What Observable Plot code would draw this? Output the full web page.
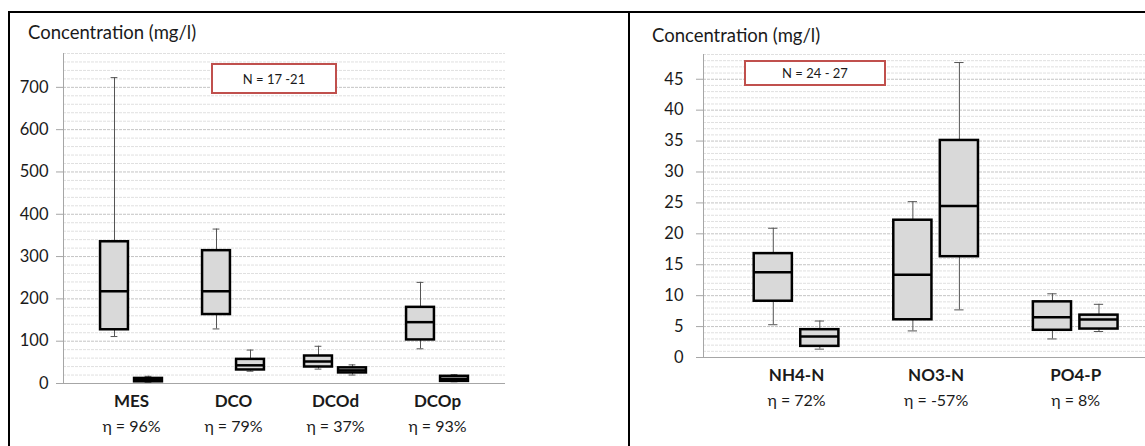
<!DOCTYPE html>
<html>
<head>
<meta charset="utf-8">
<script src="https://cdn.jsdelivr.net/npm/d3@7"></script>
<script src="https://cdn.jsdelivr.net/npm/@observablehq/plot@0.6"></script>
<style>
  html, body { margin: 0; padding: 0; background: #fff; }
  #wrap { position: relative; width: 1145px; height: 446px; overflow: hidden; font-family: Lato, "Open Sans", sans-serif; color: #1a1a1a; }
  .panel { position: absolute; top: 0; }
  .title { position: absolute; font-size: 18.5px; white-space: nowrap; line-height: 1; }
  .nbox { position: absolute; border: 2px solid #c0504d; box-sizing: border-box; background: #fff;
          display: flex; align-items: center; justify-content: center; font-size: 13px; }
  .hline { position: absolute; background: #000; }
</style>
</head>
<body>
<div id="wrap"></div>
<script>
// ---------- Left panel data (mg/l) ----------
const leftGroups = ["MES", "DCO", "DCOd", "DCOp"];
const leftEff = ["η = 96%", "η = 79%", "η = 37%", "η = 93%"];
const leftInMin = [111, 129, 34, 82];
const leftInQ1  = [127, 163, 39, 103];
const leftInMed = [218, 218, 52, 145];
const leftInQ3  = [335, 314, 65, 180];
const leftInMax = [723, 365, 88, 239];
const leftOutMin = [3, 29, 20, 4];
const leftOutQ1  = [4, 32, 25, 5];
const leftOutMed = [8, 43, 31, 11];
const leftOutQ3  = [12, 57, 37, 17];
const leftOutMax = [17, 79, 44, 21];
const leftTicks = [0, 100, 200, 300, 400, 500, 600, 700];
const leftN = "N = 17 -21";

// ---------- Right panel data (mg/l) ----------
const rightGroups = ["NH4-N", "NO3-N", "PO4-P"];
const rightEff = ["η = 72%", "η = -57%", "η = 8%"];
const rightInMin = [5.3, 4.3, 3.0];
const rightInQ1  = [9.1, 6.1, 4.4];
const rightInMed = [13.8, 13.4, 6.5];
const rightInQ3  = [16.8, 22.2, 9.0];
const rightInMax = [20.9, 25.2, 10.3];
const rightOutMin = [1.35, 7.7, 4.2];
const rightOutQ1  = [1.8, 16.3, 4.6];
const rightOutMed = [3.4, 24.5, 6.15];
const rightOutQ3  = [4.5, 35.1, 6.85];
const rightOutMax = [5.9, 47.7, 8.6];
const rightTicks = [0, 5, 10, 15, 20, 25, 30, 35, 40, 45];
const rightN = "N = 24 - 27";

function buildTable(groups, inS, outS) {
  const rows = [];
  groups.forEach((g, i) => {
    [inS, outS].forEach((S, k) => {
      rows.push({group: g, slot: 3 * i + k, min: S[0][i], q1: S[1][i], med: S[2][i], q3: S[3][i], max: S[4][i]});
    });
  });
  return rows;
}

const leftTable = buildTable(leftGroups,
  [leftInMin, leftInQ1, leftInMed, leftInQ3, leftInMax],
  [leftOutMin, leftOutQ1, leftOutMed, leftOutQ3, leftOutMax]);
const rightTable = buildTable(rightGroups,
  [rightInMin, rightInQ1, rightInMed, rightInQ3, rightInMax],
  [rightOutMin, rightOutQ1, rightOutMed, rightOutQ3, rightOutMax]);

function panel({table, groups, eff, ticks, yMax, minorStep, xDomain, width, height, margins, labelGap}) {
  const minor = d3.range(minorStep, yMax + 1e-9, minorStep).filter(v => !ticks.includes(+v.toFixed(6)));
  const halfBox = 0.41, halfCap = 0.1;
  return Plot.plot({
    width, height,
    marginLeft: margins[3], marginRight: margins[1], marginTop: margins[0], marginBottom: margins[2],
    x: {domain: xDomain, axis: null},
    y: {domain: [0, yMax], axis: null},
    style: {fontFamily: "Lato, 'Open Sans', sans-serif", fontSize: "16px", color: "#1a1a1a", background: "transparent", overflow: "visible"},
    marks: [
      Plot.ruleY(minor, {stroke: "#e0e0e0", strokeWidth: 1, strokeDasharray: "3,1"}),
      Plot.ruleY(ticks.filter(t => t > 0), {stroke: "#c4c4c4", strokeWidth: 1, strokeDasharray: "3,1"}),
      Plot.ruleY([0], {stroke: "#a6a6a6", strokeWidth: 1}),
      Plot.ruleX([xDomain[0]], {y1: 0, y2: yMax, stroke: "#a6a6a6", strokeWidth: 1}),
      Plot.axisY({ticks, tickSize: 7, text: null, stroke: "#a6a6a6", label: null}),
      Plot.text(ticks, {y: d => d, frameAnchor: "left", textAnchor: "end", dx: -labelGap,
        text: d => String(d), fontSize: 16.5, fill: "#1a1a1a"}),
      // whiskers
      Plot.ruleX(table, {x: "slot", y1: "q3", y2: "max", stroke: "#555", strokeWidth: 1}),
      Plot.ruleX(table, {x: "slot", y1: "min", y2: "q1", stroke: "#555", strokeWidth: 1}),
      Plot.ruleY(table, {y: "max", x1: d => d.slot - halfCap, x2: d => d.slot + halfCap, stroke: "#555", strokeWidth: 1}),
      Plot.ruleY(table, {y: "min", x1: d => d.slot - halfCap, x2: d => d.slot + halfCap, stroke: "#555", strokeWidth: 1}),
      // boxes
      Plot.rect(table, {x1: d => d.slot - halfBox, x2: d => d.slot + halfBox, y1: "q1", y2: "q3",
        fill: "#d9d9d9", stroke: "#000", strokeWidth: 2.5}),
      Plot.ruleY(table, {y: "med", x1: d => d.slot - halfBox, x2: d => d.slot + halfBox, stroke: "#000", strokeWidth: 2.5}),
      // category labels
      Plot.text(groups, {x: (d, i) => 3 * i + 0.5, frameAnchor: "bottom", dy: 23, text: d => d,
        fontWeight: "bold", fontSize: 17, fill: "#1a1a1a"}),
      Plot.text(eff, {x: (d, i) => 3 * i + 0.5, frameAnchor: "bottom", dy: 48, text: d => d,
        fontSize: 16, fill: "#1a1a1a"})
    ]
  });
}

const wrap = document.getElementById("wrap");

const left = panel({
  table: leftTable, groups: leftGroups, eff: leftEff, ticks: leftTicks, yMax: 780, minorStep: 20,
  xDomain: [-1.5, 11.5], width: 620, height: 446, margins: [53, 115, 63, 63], labelGap: 15
});
left.classList.add("panel"); left.style.left = "0px";
wrap.appendChild(left);

const right = panel({
  table: rightTable, groups: rightGroups, eff: rightEff, ticks: rightTicks, yMax: 49, minorStep: 1,
  xDomain: [-1.5, 8], width: 525, height: 446, margins: [54, 0, 89, 83], labelGap: 20
});
right.classList.add("panel"); right.style.left = "620px";
wrap.appendChild(right);

// titles
function addDiv(cls, css, text) {
  const d = document.createElement("div");
  d.className = cls;
  Object.assign(d.style, css);
  if (text) d.textContent = text;
  wrap.appendChild(d);
  return d;
}
addDiv("title", {left: "28px", top: "23px"}, "Concentration (mg/l)");
addDiv("title", {left: "652px", top: "26px"}, "Concentration (mg/l)");
addDiv("nbox", {left: "211px", top: "63px", width: "126px", height: "31px"}, leftN);
addDiv("nbox", {left: "744px", top: "60px", width: "142px", height: "26px"}, rightN);

// panel frame lines
addDiv("hline", {left: "9px", top: "11px", width: "1136px", height: "2px"});
addDiv("hline", {left: "8px", top: "11px", width: "2px", height: "435px"});
addDiv("hline", {left: "628px", top: "11px", width: "2px", height: "435px"});
</script>
</body>
</html>
